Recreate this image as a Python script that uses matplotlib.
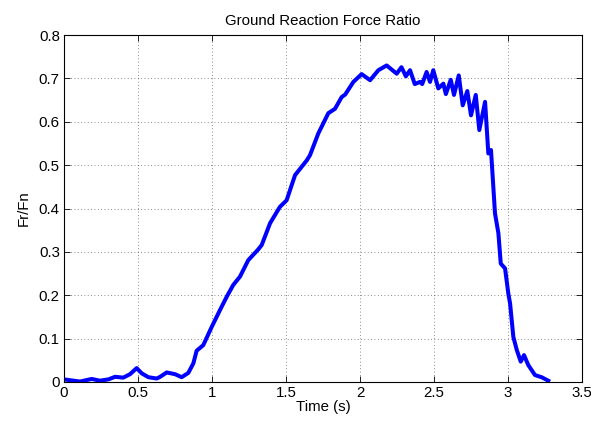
import matplotlib
matplotlib.use("Agg")
import matplotlib.pyplot as plt

# values
time_s = [0.0, 0.108, 0.187, 0.243, 0.30, 0.345, 0.40, 0.446, 0.491, 0.525,
          0.57, 0.626, 0.65, 0.694, 0.75, 0.795, 0.84, 0.874, 0.896, 0.941,
          0.998, 1.054, 1.10, 1.144, 1.189, 1.245, 1.313, 1.336, 1.392, 1.459,
          1.504, 1.561, 1.64, 1.662, 1.718, 1.786, 1.831, 1.876, 1.90, 1.955,
          2.011, 2.068, 2.124, 2.18, 2.248, 2.28, 2.31, 2.338, 2.37, 2.405,
          2.42, 2.45, 2.473, 2.495, 2.529, 2.563, 2.58, 2.613, 2.635, 2.667,
          2.694, 2.725, 2.75, 2.782, 2.806, 2.845, 2.867, 2.885, 2.912, 2.935,
          2.951, 2.98, 3.002, 3.014, 3.036, 3.059, 3.086, 3.108, 3.137, 3.182,
          3.227, 3.272]
ratio = [0.006, 0.001, 0.007, 0.003, 0.006, 0.012, 0.010, 0.018, 0.032, 0.020,
         0.011, 0.008, 0.012, 0.022, 0.018, 0.011, 0.021, 0.043, 0.072, 0.085,
         0.127, 0.166, 0.197, 0.224, 0.243, 0.281, 0.306, 0.316, 0.366, 0.404,
         0.419, 0.477, 0.511, 0.523, 0.573, 0.620, 0.630, 0.657, 0.663, 0.692,
         0.710, 0.696, 0.719, 0.730, 0.711, 0.726, 0.705, 0.719, 0.687, 0.692,
         0.687, 0.715, 0.692, 0.719, 0.677, 0.688, 0.664, 0.697, 0.662, 0.707,
         0.638, 0.671, 0.615, 0.662, 0.581, 0.646, 0.527, 0.535, 0.389, 0.343,
         0.273, 0.262, 0.204, 0.181, 0.104, 0.074, 0.047, 0.062, 0.039, 0.016,
         0.011, 0.003]

xTicks = [0, 0.5, 1, 1.5, 2, 2.5, 3, 3.5]
xTickLabels = ["0", "0.5", "1", "1.5", "2", "2.5", "3", "3.5"]
yTicks = [0, 0.1, 0.2, 0.3, 0.4, 0.5, 0.6, 0.7, 0.8]
yTickLabels = ["0", "0.1", "0.2", "0.3", "0.4", "0.5", "0.6", "0.7", "0.8"]

plt.rcParams["font.family"] = ["Liberation Sans", "DejaVu Sans"]
plt.rcParams["font.size"] = 10.8

fig = plt.figure(figsize=(5.91, 4.28), dpi=100)
ax = fig.add_axes([0.1083, 0.1075, 0.8765, 0.8105])

ax.plot(time_s, ratio, color="#0000ff", linewidth=2.9, solid_joinstyle="round")

ax.set_xlim(0, 3.5)
ax.set_ylim(0, 0.8)
ax.set_xticks(xTicks)
ax.set_xticklabels(xTickLabels)
ax.set_yticks(yTicks)
ax.set_yticklabels(yTickLabels)
ax.tick_params(direction="in", top=True, right=True, length=4, width=0.6,
               labelsize=10.8, pad=3)
ax.grid(True, linestyle=(0, (1, 3)), color="black", linewidth=0.6, alpha=0.6)
for spine in ax.spines.values():
    spine.set_linewidth(0.8)

ax.set_xlabel("Time (s)", labelpad=0)
ax.set_ylabel("Fr/Fn", labelpad=6)
ax.set_title("Ground Reaction Force Ratio", fontsize=10.8, pad=7)

fig.savefig("out.png", dpi=100)
